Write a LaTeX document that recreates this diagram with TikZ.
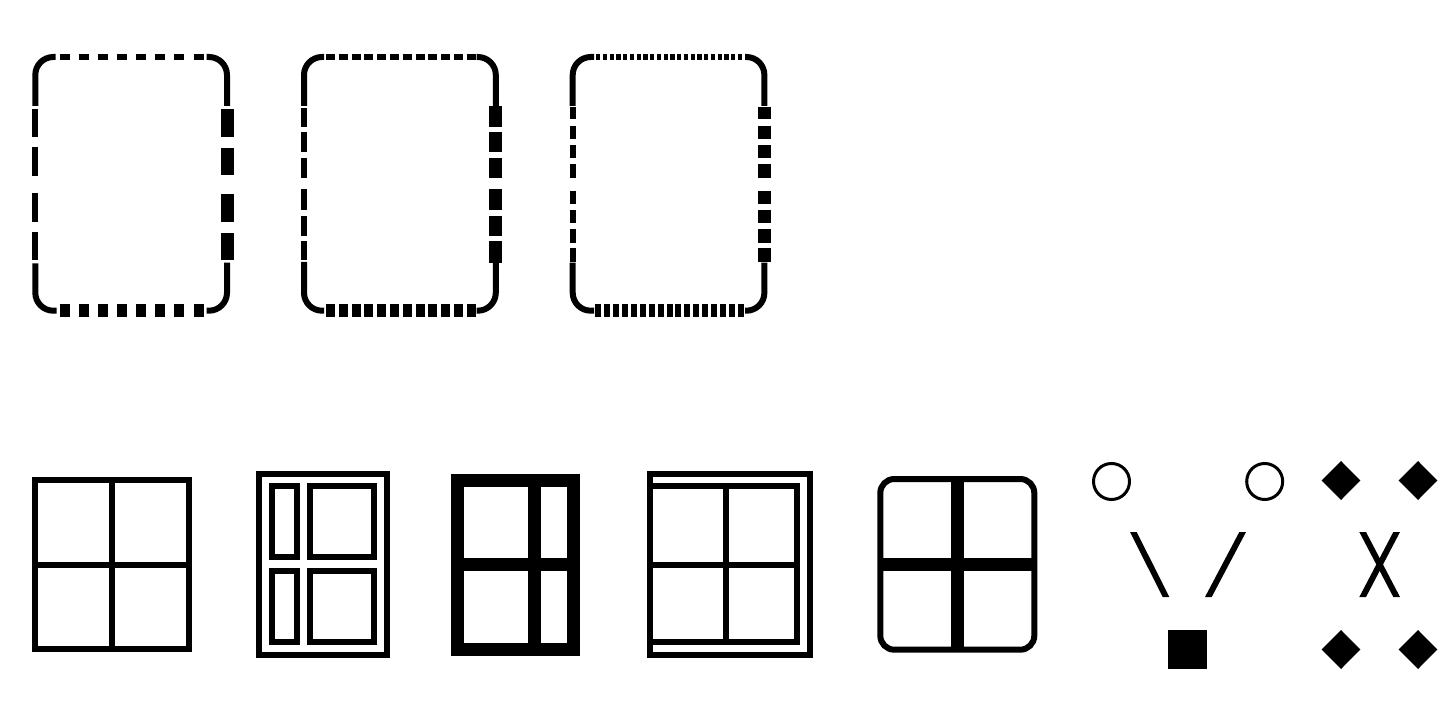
\documentclass[tikz,border=0pt]{standalone}
\tikzset{
  lnA/.style={line width=6pt, line cap=butt},
  lnB/.style={line width=13pt, line cap=butt},
  lnC/.style={line width=3pt},
  crn/.style={lnA, rounded corners=18pt},
}
\begin{document}
\begin{tikzpicture}[x=1pt,y=-1pt]
\fill[white] (0,0) rectangle (1453,708);
\useasboundingbox (0,0) rectangle (1453,708);

% ---------- Box 1 ----------
\draw[crn] (35.3,106) -- (35.3,57) -- (55.7,57);
\draw[crn] (206.7,57) -- (227,57) -- (227,106);
\draw[crn] (227,262.7) -- (227,310.7) -- (206.7,310.7);
\draw[crn] (56.5,310.7) -- (35.3,310.7) -- (35.3,263.3);
\foreach \i in {0,...,7} \draw[lnA] ({59.5+19.15*\i},57) -- ++(10,0);
\foreach \i in {0,...,7} \draw[lnB] ({59.5+19.15*\i},310.7) -- ++(10,0);
\foreach \a/\b in {108.7/137.3,146.7/175.7,192.7/221.7,231.7/260} \draw[lnA] (35.3,\a) -- (35.3,\b);
\foreach \a/\b in {109.3/136.7,148.3/175,194/221.7,233.3/260} \draw[lnB] (227,\a) -- (227,\b);

% ---------- Box 2 ----------
\draw[crn] (304,106) -- (304,57) -- (324,57);
\draw[crn] (476.7,57) -- (495.8,57) -- (495.8,106);
\draw[crn] (495.8,263) -- (495.8,310.7) -- (476.7,310.7);
\draw[crn] (324,310.7) -- (304,310.7) -- (304,262);
\foreach \i in {0,...,11} \draw[lnA] ({326+12.79*\i},57) -- ++(9,0);
\foreach \i in {0,...,11} \draw[lnB] ({326+12.79*\i},310.7) -- ++(9,0);
\foreach \a/\b in {108/127,132/152,158/178.5,189.5/210,216/236,241/260} \draw[lnA] (304,\a) -- (304,\b);
\foreach \a/\b in {106/127,132/152,158/178.5,189.5/210,216/236,241/263} \draw[lnB] (495.8,\a) -- (495.8,\b);

% ---------- Box 3 ----------
\draw[crn] (572.7,106) -- (572.7,57) -- (594,57);
\draw[crn] (745,57) -- (764.4,57) -- (764.4,106);
\draw[crn] (764.4,262.7) -- (764.4,310.7) -- (745,310.7);
\draw[crn] (594,310.7) -- (572.7,310.7) -- (572.7,262.7);
\foreach \i in {0,...,21} \draw[lnA] ({596+6.75*\i},57) -- ++(4.3,0);
\foreach \i in {0,...,16} \draw[lnB] ({595+8.94*\i},310.7) -- ++(6,0);
\foreach \a/\b in {106.7/119.3,125.7/139,145/158.3,164.3/177.7,190.7/204,210/223.3,229.3/242.7,248.3/261.7} \draw[lnA] (572.7,\a) -- (572.7,\b);
\foreach \a/\b in {106.7/119.3,125.7/139,145/158.3,164.3/177.7,190.7/204,210/223.3,229.3/242.7,248.3/261.7} \draw[lnB] (764.4,\a) -- (764.4,\b);

% ---------- Window 1 ----------
\draw[lnA] (35.3,479.7) rectangle (188.7,648.7);
\draw[lnA] (112,479.7) -- (112,648.7);
\draw[lnA] (35.3,564.7) -- (188.7,564.7);

% ---------- Window 2 ----------
\draw[lnA] (259.3,473.7) rectangle (387.3,655);
\draw[lnA] (271.7,486.3) rectangle (297,557);
\draw[lnA] (310.3,486.3) rectangle (374.3,557);
\draw[lnA] (271.7,571.3) rectangle (297,642);
\draw[lnA] (310.3,571.3) rectangle (374.3,642);

% ---------- Window 3 ----------
\draw[lnB] (457.7,480) rectangle (573,649);
\draw[lnB] (534.7,480) -- (534.7,649);
\draw[lnB] (457.7,564.7) -- (573,564.7);

% ---------- Window 4 ----------
\draw[lnA] (649.7,473.7) rectangle (809.7,655.3);
\draw[lnA] (649.7,486.3) rectangle (797,642.3);
\draw[lnA] (726.3,486.3) -- (726.3,642.3);
\draw[lnA] (649.7,564.7) -- (797,564.7);

% ---------- Window 5 ----------
\draw[lnA, rounded corners=14pt] (880.3,479) rectangle (1034.3,649.7);
\draw[lnB] (957.3,479) -- (957.3,649.7);
\draw[lnB] (880.3,564.7) -- (1034.3,564.7);

% ---------- Symbols ----------
\draw[lnC] (1111.5,481.5) circle[radius=18];
\draw[lnC] (1264.7,481.5) circle[radius=18];
\fill (1130,532) -- (1136.7,532) -- (1169.3,597) -- (1162.7,597) -- cycle;
\fill (1239.3,532) -- (1246,532) -- (1211.7,597) -- (1205,597) -- cycle;
\fill (1168,630) rectangle (1207,669);
\foreach \cx/\cy in {1341/480.5,1418/480.5,1341/649.5,1418/649.5}
  \fill (\cx-19.3,\cy) -- (\cx,\cy-19.5) -- (\cx+19.3,\cy) -- (\cx,\cy+19.5) -- cycle;
\fill (1359.3,532) -- (1366,532) -- (1400,597) -- (1393.3,597) -- cycle;
\fill (1393.3,532) -- (1400,532) -- (1366,597) -- (1359.3,597) -- cycle;
\end{tikzpicture}
\end{document}
